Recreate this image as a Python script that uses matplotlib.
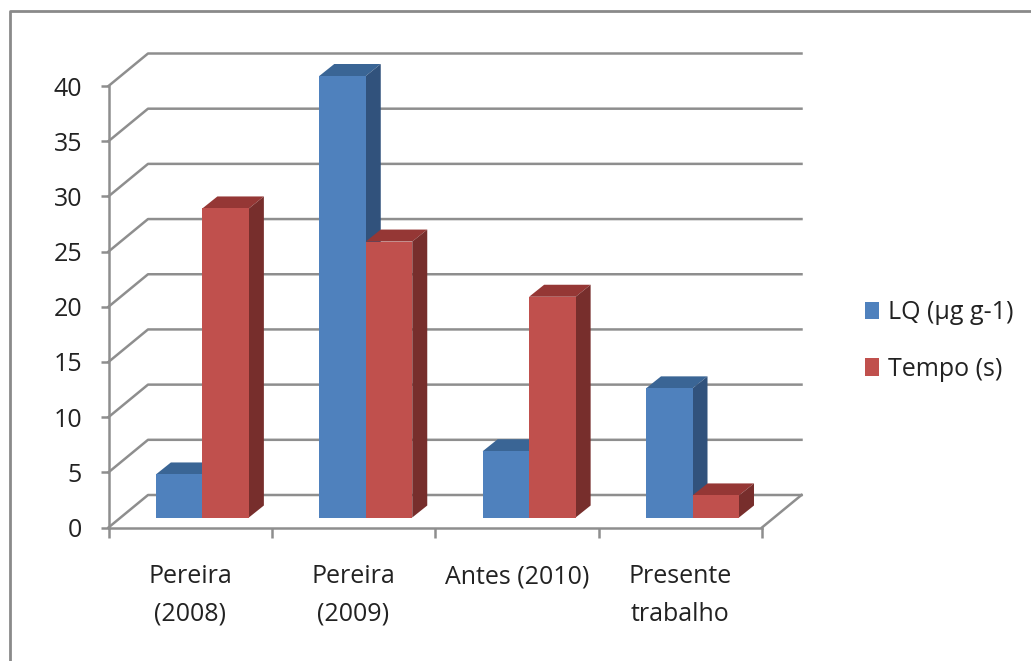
import matplotlib
matplotlib.use('Agg')
from matplotlib import pyplot as plt
from matplotlib.patches import Polygon, Rectangle
import numpy as np

categorias = ['Pereira\n(2008)', 'Pereira\n(2009)', 'Antes (2010)', 'Presente\ntrabalho']
lq = [3.9, 40, 6, 11.7]
tempo = [28, 25, 20, 2]
nomes = ['LQ (µg g-1)', 'Tempo (s)']
y_ticks = [0, 5, 10, 15, 20, 25, 30, 35, 40]

W, H = 1031, 661
plt.rcParams['font.family'] = ['Open Sans', 'DejaVu Sans']
plt.rcParams['font.size'] = 18

CINZA = '#8e8e8e'
AZUL = ('#4f81bd', '#3a6595', '#31527c')
VERMELHO = ('#c0504d', '#953735', '#772e2c')

fig = plt.figure(figsize=(W / 100, H / 100), dpi=100)

# moldura externa (sem lado direito e sem base, cortados na figura)
fig.add_artist(plt.Line2D([9.5 / W, 9.5 / W, 1], [0, 1 - 11 / H, 1 - 11 / H],
                          color='#8a8a8a', lw=2))

# eixos no plano frontal: pixels 108.5-762 em x, 527.5-86 em y
ax = fig.add_axes([108.5 / W, 1 - 527.5 / H, 653.5 / W, 441.5 / H])
ax.set_xlim(0, 4)
ax.set_ylim(0, 40)
ax.patch.set_visible(False)

px = 4 / 653.5          # unidades de x por pixel
py = 40 / 441.5         # unidades de y por pixel
fundo_x, fundo_y = 39.5 * px, 32.5 * py   # profundidade da parede do fundo
prof_x, prof_y = 15 * px, 12 * py         # profundidade das barras
base_x, base_y = 0.29, 10 * py            # onde as barras comecam
larg = 46.5 * px

# grade: parede lateral + parede do fundo
for v in y_ticks:
    ax.plot([0, fundo_x, 4 + fundo_x], [v, v + fundo_y, v + fundo_y],
            color=CINZA, lw=1.8, clip_on=False, zorder=1, solid_joinstyle='round')
# chao, lado direito
ax.plot([4, 4 + fundo_x], [0, fundo_y], color=CINZA, lw=1.8, clip_on=False, zorder=1)


def barra(x0, valor, cores, z):
    topo = base_y + valor
    x1 = x0 + larg
    ax.bar(x0, valor, width=larg, bottom=base_y, align='edge', color=cores[0],
           linewidth=0, zorder=z + 0.2, clip_on=False)
    ax.add_patch(Polygon([(x0, topo), (x1, topo), (x1 + prof_x, topo + prof_y), (x0 + prof_x, topo + prof_y)],
                         closed=True, fc=cores[1], lw=0, zorder=z, clip_on=False))
    ax.add_patch(Polygon([(x1, base_y), (x1 + prof_x, base_y + prof_y), (x1 + prof_x, topo + prof_y), (x1, topo)],
                         closed=True, fc=cores[2], lw=0, zorder=z, clip_on=False))


for i in range(len(categorias)):
    barra(i + base_x, lq[i], AZUL, 2 + i)
    barra(i + base_x + larg, tempo[i], VERMELHO, 2.5 + i)

# eixos
for lado in ['top', 'right']:
    ax.spines[lado].set_visible(False)
for lado in ['left', 'bottom']:
    ax.spines[lado].set_color(CINZA)
    ax.spines[lado].set_linewidth(1.8)
    ax.spines[lado].set_zorder(1.5)

ax.set_yticks(y_ticks)
ax.tick_params(axis='y', length=6, width=1.8, color=CINZA, pad=13, labelcolor='#222222')
ax.set_xticks(np.arange(0, 5))
ax.set_xticklabels([])
ax.tick_params(axis='x', which='major', length=7, width=1.8, color=CINZA)
ax.set_xticks(np.arange(len(categorias)) + 0.5, minor=True)
ax.set_xticklabels(categorias, minor=True, linespacing=1.65)
ax.tick_params(axis='x', which='minor', length=0, pad=26.5, labelcolor='#222222')

# legenda
hs = [Rectangle((0, 0), 1, 1, fc=AZUL[0], lw=0), Rectangle((0, 0), 1, 1, fc=VERMELHO[0], lw=0)]
fig.legend(hs, nomes, loc='center left', bbox_to_anchor=(865 / W, 1 - 341 / H),
           frameon=False, borderpad=0, borderaxespad=0, handlelength=0.56,
           handleheight=0.7, handletextpad=0.36, labelspacing=1.25, labelcolor='#222222')

fig.savefig('out.png', dpi=100)
